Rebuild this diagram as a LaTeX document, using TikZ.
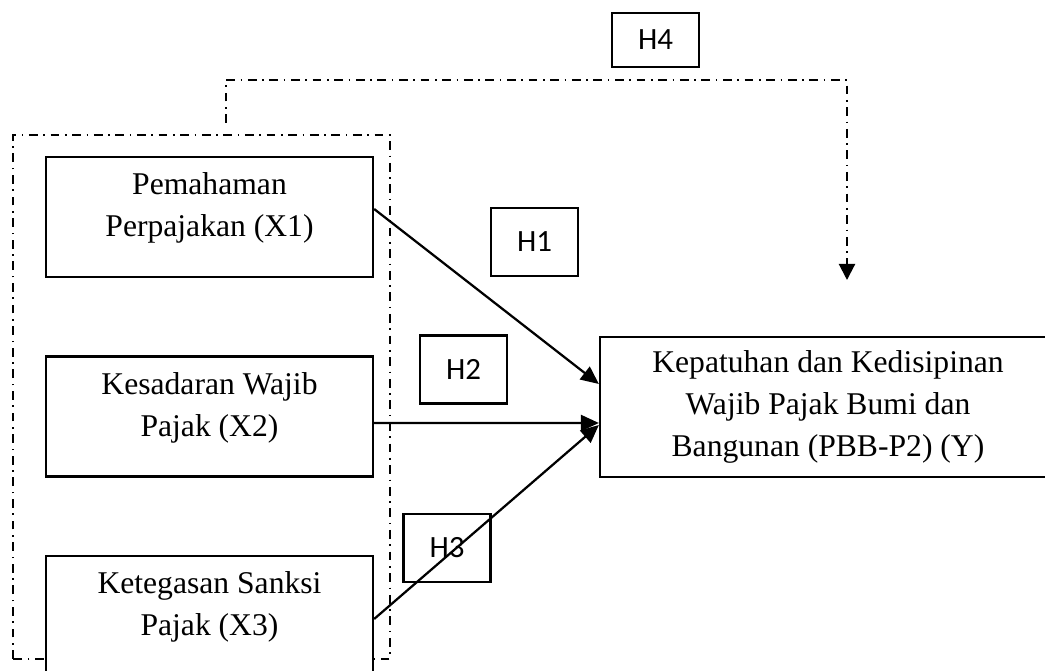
\documentclass[tikz,border=0pt]{standalone}
\usepackage{fontspec}
\setmainfont{Liberation Serif}
\newfontfamily\hfont{Carlito}
\usetikzlibrary{arrows.meta}
\tikzset{
varbox/.style={rectangle, draw=black!100,fill=white,line width=1.6pt, inner sep=0pt, minimum width= 8.175cm, minimum height = 3cm},
vartext/.style={align=center, yshift=0.22cm, font=\fontsize{22.5}{30}\selectfont},
depbox/.style={rectangle, draw=black!100,fill=white,line width=1.6pt, inner sep=0pt, minimum width= 11.4cm, minimum height = 3.5cm, align=center, font=\fontsize{22.5}{30}\selectfont},
hypbox/.style={rectangle, draw=black!100,fill=white,line width=1.6pt, inner sep=0pt, minimum width= 2.175cm, minimum height = 1.7cm, font=\hfont\fontsize{22}{26}\selectfont},
dashdotline/.style={line width=1.5pt, dash pattern=on 0.22cm off 0.14cm on 0.04cm off 0.14cm},
effect/.style={line width=1.6pt, -{Triangle[length=0.45cm, width=0.4cm]}},
}
\begin{document}
\begin{tikzpicture}
  \useasboundingbox (0,0) rectangle (26.125,16.775);
  \draw[dashdotline] (0.325,0.3) rectangle (9.75,13.4);
  \coordinate (h4start) at (5.65,13.7);
  \coordinate (h4bend) at (5.65,14.775);
  \coordinate (h4end) at (21.175,9.775);
  \draw[dashdotline,-{Triangle[length=0.4cm, width=0.4cm]}] (h4start) -- (h4bend) -| (h4end);

  \node[varbox] at (5.2375,11.35) (x1) [label = {[vartext]center:Pemahaman\\Perpajakan (X1)}] {};
  \node[varbox] at (5.2375,6.3625) (x2) [label = {[vartext]center:Kesadaran Wajib\\Pajak (X2)}] {};
  \node[varbox] at (5.2375,1.375) (x3) [label = {[vartext]center:Ketegasan Sanksi\\Pajak (X3)}] {};
  \node[depbox] at (20.7,6.6) (y) {Kepatuhan dan Kedisipinan\\Wajib Pajak Bumi dan\\Bangunan (PBB-P2) (Y)};

  \node[hypbox] at (13.3625,10.725) (h1) {H1};
  \node[hypbox] at (11.5875,7.5375) (h2) {H2};
  \node[hypbox] at (11.175,3.075) (h3) {H3};
  \node[hypbox, minimum height = 1.35cm] at (16.3875,15.775) (h4) {H4};

  \draw[effect] ([yshift=0.2cm]x1.east) to ([yshift=0.575cm]y.west);
  \draw[effect] ([yshift=-0.1625cm]x2.east) to ([yshift=-0.4cm]y.west);
  \draw[effect] ([yshift=-0.075cm]x3.east) to ([yshift=-0.45cm]y.west);
\end{tikzpicture}
\end{document}
